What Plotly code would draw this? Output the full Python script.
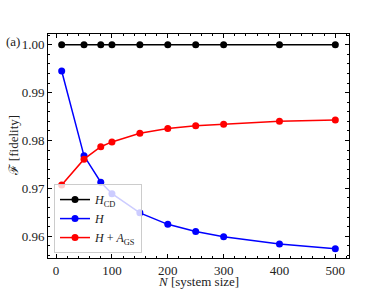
import plotly.graph_objects as go

N = [10, 50, 80, 100, 150, 200, 250, 300, 400, 500]
F_HCD = [1.000, 1.000, 1.000, 1.000, 1.000, 1.000, 1.000, 1.000, 1.000, 1.000]
F_H = [0.9945, 0.9768, 0.9713, 0.9689, 0.9649, 0.9625, 0.9610, 0.9599, 0.9584, 0.9574]
F_HA = [0.9707, 0.9761, 0.9787, 0.9797, 0.9815, 0.9825, 0.9831, 0.9834, 0.9840, 0.9843]

x_ticks = [0, 100, 200, 300, 400, 500]
y_ticks = [0.96, 0.97, 0.98, 0.99, 1.00]
y_ticklabels = ["0.96", "0.97", "0.98", "0.99", "1.00"]

FONT = "Liberation Serif"
TXT = "#222"

fig = go.Figure()
series = [
    ("<i>H</i><sub>CD</sub>", F_HCD, "black"),
    ("<i>H</i>", F_H, "blue"),
    ("<i>H</i> + <i>A</i><sub>GS</sub>", F_HA, "red"),
]
for name, ys, col in series:
    fig.add_trace(go.Scatter(x=N, y=ys, name=name, mode="lines+markers",
                             line=dict(color=col, width=1.5),
                             marker=dict(color=col, size=7)))

axis_common = dict(showgrid=False, zeroline=False, showline=True, linecolor="black",
                   linewidth=1, mirror="allticks", ticks="inside", ticklen=4,
                   tickcolor="black", automargin=False,
                   tickfont=dict(family=FONT, size=13, color=TXT))

fig.update_xaxes(range=[-14.5, 524.5], tickvals=x_ticks,
                 minor=dict(ticks="inside", ticklen=2, dtick=20, tickcolor="black"),
                 **axis_common)
fig.update_yaxes(range=[0.95547, 1.00223], tickvals=y_ticks, ticktext=y_ticklabels,
                 minor=dict(ticks="inside", ticklen=2, dtick=0.002, tickcolor="black"),
                 **axis_common)

# axis titles
fig.add_annotation(text="<i>N</i> [system size]", x=0.5, y=-0.103, xref="paper", yref="paper",
                   xanchor="center", yanchor="middle", showarrow=False,
                   font=dict(family=FONT, size=13, color=TXT))
fig.add_annotation(text="ℱ [fidelity]", x=-0.115, y=0.5, xref="paper", yref="paper",
                   xanchor="center", yanchor="middle", showarrow=False, textangle=-90,
                   font=dict(family=FONT, size=13, color=TXT))

fig.add_annotation(text="(a)", x=-0.145, y=0.965, xref="paper", yref="paper",
                   xanchor="left", yanchor="middle", showarrow=False,
                   font=dict(family=FONT, size=13, color=TXT))

fig.update_layout(
    width=388, height=291,
    margin=dict(l=48, r=39, t=34, b=33),
    plot_bgcolor="white", paper_bgcolor="white",
    showlegend=True,
    legend=dict(x=0.02, y=0.022, xanchor="left", yanchor="bottom",
                bgcolor="rgba(255,255,255,0.8)", bordercolor="#ccc", borderwidth=1,
                font=dict(family=FONT, size=12, color=TXT),
                itemwidth=30, tracegroupgap=0),
)

fig.write_html("out.html", config={"displayModeBar": False},
               post_script="document.body.style.margin='0';document.body.style.overflow='hidden';")
